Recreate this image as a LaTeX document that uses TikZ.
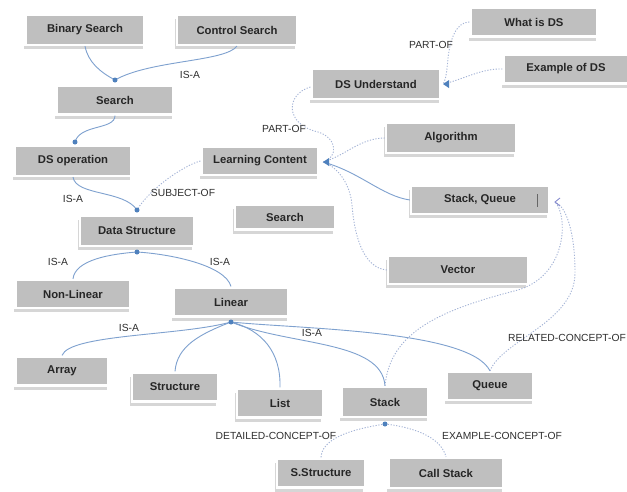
\documentclass[tikz,border=0pt]{standalone}
\usepackage{fontspec}
\setmainfont{Liberation Sans}
\usetikzlibrary{shadows}
\definecolor{boxgray}{HTML}{BFBFBF}
\definecolor{edgeblue}{HTML}{7EA1CF}
\definecolor{dotblue}{HTML}{4F81BD}
\definecolor{dotedge}{HTML}{A3B3D6}
\definecolor{openarr}{HTML}{8A8FD0}
\begin{document}
\begin{tikzpicture}[x=1pt,y=-1pt,
  box/.style={fill=boxgray, draw=white, line width=2.2pt, inner sep=0pt,
    font=\fontsize{11.3}{13}\selectfont\bfseries, text=black!85,
    general shadow={fill=black!16, shadow xshift=-2pt, shadow yshift=-4pt}},
  lbl/.style={font=\fontsize{10.3}{12}\selectfont, text=black!82, inner sep=0pt},
  isa/.style={draw=edgeblue, line width=0.9pt},
  rel/.style={draw=dotedge, line width=0.9pt, dash pattern=on 1.2pt off 1.6pt},
  jdot/.style={circle, fill=dotblue, inner sep=0pt, minimum size=5pt}]
\fill[white] (0,0) rectangle (627,491);
\useasboundingbox (0,0) rectangle (627,491);

% boxes
\node[box, minimum width=119pt, minimum height=30pt] (bs) at (85,30) {Binary Search};
\node[box, minimum width=120pt, minimum height=30pt] (cs) at (237,30) {Control Search};
\node[box, minimum width=117pt, minimum height=29pt] (s1) at (115,100) {Search};
\node[box, minimum width=117pt, minimum height=30pt] (dso) at (73,161) {DS operation};
\node[box, minimum width=117pt, minimum height=28pt] (lc) at (260,161) {Learning Content};
\node[box, minimum width=129pt, minimum height=30pt] (dsu) at (376,84) {DS Understand};
\node[box, minimum width=127pt, minimum height=29pt] (wds) at (534,22) {What is DS};
\node[box, minimum width=125pt, minimum height=29pt] (eds) at (566,69) {Example of DS};
\node[box, minimum width=130pt, minimum height=30pt] (alg) at (451,138) {Algorithm};
\node[box, minimum width=138pt, minimum height=28pt] (sq) at (480,200) {Stack, Queue};
\node[box, minimum width=100pt, minimum height=25pt] (s2) at (285,217) {Search};
\node[box, minimum width=140pt, minimum height=28pt] (vec) at (458,270) {Vector};
\node[box, minimum width=114pt, minimum height=30pt] (ds) at (137,231) {Data Structure};
\node[box, minimum width=115pt, minimum height=28pt] (nl) at (73,294) {Non-Linear};
\node[box, minimum width=115pt, minimum height=29pt] (lin) at (231,302) {Linear};
\node[box, minimum width=93pt, minimum height=29pt] (arr) at (62,371) {Array};
\node[box, minimum width=86pt, minimum height=29pt] (str) at (175,387) {Structure};
\node[box, minimum width=86pt, minimum height=29pt] (lst) at (280,403) {List};
\node[box, minimum width=87pt, minimum height=30pt] (stk) at (385,402) {Stack};
\node[box, minimum width=87pt, minimum height=28pt] (que) at (490,386) {Queue};
\node[box, minimum width=88pt, minimum height=29pt] (sst) at (321,473) {S.Structure};
\node[box, minimum width=115pt, minimum height=30pt] (cst) at (446,473) {Call Stack};

% junction points and arrow ends
\coordinate (d1) at (115,80);
\coordinate (d2) at (75,142);
\coordinate (d3) at (137,210);
\coordinate (d4) at (137,252);
\coordinate (d5) at (231,322);
\coordinate (d6) at (385,424);
\coordinate (lca) at (323,162);
\coordinate (dsua) at (443,84);
\coordinate (sqa) at (555,202);

% IS-A (solid) connectors
\draw[isa] (bs.south) .. controls (88,62) and (100,72) .. (d1);
\draw[isa] (cs.south) .. controls (225,62) and (150,60) .. (d1);
\draw[isa] (s1.south) .. controls (115,130) and (80,124) .. (d2);
\draw[isa] (dso.south) .. controls (76,196) and (124,190) .. (d3);
\draw[isa] (d4) .. controls (110,254) and (75,260) .. (nl.north);
\draw[isa] (d4) .. controls (170,254) and (225,265) .. (lin.north);
\draw[isa] (d5) .. controls (180,336) and (70,334) .. (arr.north);
\draw[isa] (d5) .. controls (200,334) and (177,346) .. (str.north);
\draw[isa] (d5) .. controls (262,330) and (281,352) .. (lst.north);
\draw[isa] (d5) .. controls (290,346) and (382,340) .. (stk.north);
\draw[isa] (d5) .. controls (300,329) and (470,330) .. (que.north);
\draw[isa] (sq.west) .. controls (382,196) and (360,172) .. (lca);

% other relations (dotted)
\draw[rel] (lc.west) .. controls (185,165) and (150,188) .. (d3);
\draw[rel] ([yshift=-3pt]dsu.west) .. controls (286,94) and (284,124) .. (318,132)
   .. controls (338,138) and (338,158) .. (lca);
\draw[rel] (alg.west) .. controls (360,138) and (345,156) .. (lca);
\draw[rel] (vec.west) .. controls (362,268) and (354,232) .. (352,205)
   .. controls (350,182) and (336,166) .. (lca);
\draw[rel] (wds.west) .. controls (456,22) and (450,40) .. (448,58)
   .. controls (447,70) and (446,80) .. (dsua);
\draw[rel] (eds.west) .. controls (482,68) and (462,80) .. (dsua);
\draw[rel] (stk.north) .. controls (390,332) and (440,310) .. (518,290)
   .. controls (568,275) and (568,215) .. (sqa);
\draw[rel] (que.north) .. controls (502,340) and (576,322) .. (575,272)
   .. controls (575,232) and (566,206) .. (sqa);
\draw[rel] (d6) .. controls (346,430) and (322,440) .. (sst.north);
\draw[rel] (d6) .. controls (420,428) and (442,440) .. (cst.north);

% junction dots and arrowheads
\foreach \p in {d1,d2,d3,d4,d5,d6} \node[jdot] at (\p) {};
\fill[dotblue] (lca) -- ++(6,-4) -- ++(0,8) -- cycle;
\fill[dotblue] (dsua) -- ++(6,-4) -- ++(0,8) -- cycle;
\draw[openarr, line width=0.9pt] ([xshift=5pt,yshift=4pt]sqa) -- (sqa) -- ([xshift=5pt,yshift=-4pt]sqa);

% text cursor inside Stack, Queue
\draw[black!60, line width=1pt] ([xshift=57pt,yshift=6pt]sq.center) -- ([xshift=57pt,yshift=-7pt]sq.center);

% labels
\node[lbl] (l1) at (190,75) {IS-A};
\node[lbl] (l2) at (431,45) {PART-OF};
\node[lbl] (l3) at (284,129) {PART-OF};
\node[lbl] (l4) at (183,193) {SUBJECT-OF};
\node[lbl] (l5) at (73,199) {IS-A};
\node[lbl] (l6) at (58,262) {IS-A};
\node[lbl] (l7) at (220,262) {IS-A};
\node[lbl] (l8) at (129,328) {IS-A};
\node[lbl] (l9) at (312,333) {IS-A};
\node[lbl] (l10) at (567,338) {RELATED-CONCEPT-OF};
\node[lbl] (l11) at (276,436) {DETAILED-CONCEPT-OF};
\node[lbl] (l12) at (502,436) {EXAMPLE-CONCEPT-OF};
\end{tikzpicture}
\end{document}
